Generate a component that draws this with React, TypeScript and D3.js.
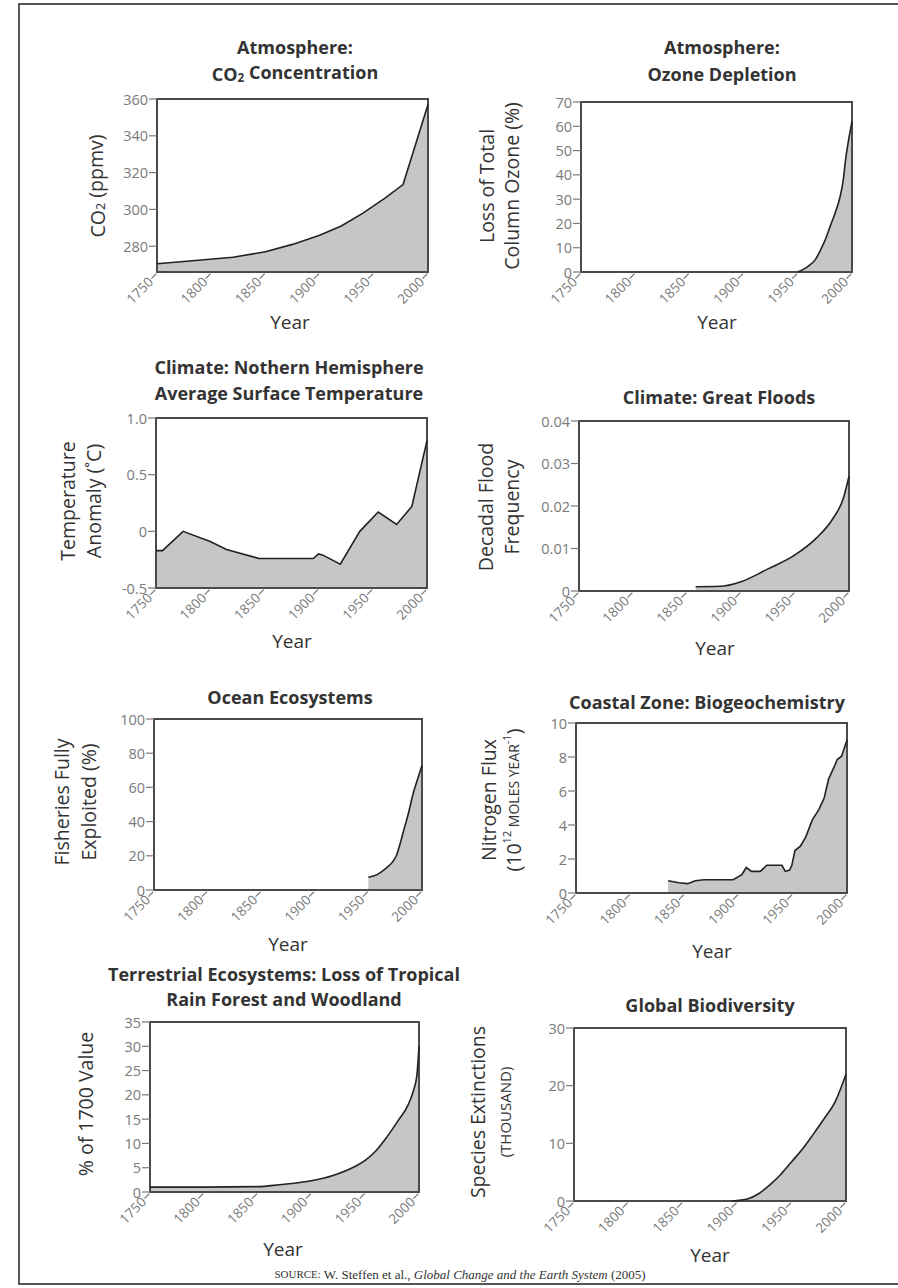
import * as d3 from "d3"

// shared x axis
const xTicks = [1750, 1800, 1850, 1900, 1950, 2000]

// series as [year, value]
const co2Data: [number, number][] = [
  [1750, 270.5], [1780, 272], [1820, 274], [1850, 277], [1875, 281], [1900, 286],
  [1920, 291], [1940, 298], [1960, 306], [1977, 313.5], [2000, 357],
]
const ozoneData: [number, number][] = [
  [1950, 0], [1960, 2.5], [1966, 5], [1972, 10], [1976, 14], [1980, 19], [1985, 25],
  [1989, 31], [1992, 38], [1994, 46], [1996, 52], [2000, 62],
]
const tempData: [number, number][] = [
  [1750, -0.17], [1756, -0.17], [1775, 0], [1800, -0.09], [1815, -0.16], [1845, -0.24],
  [1895, -0.24], [1900, -0.2], [1904, -0.21], [1920, -0.29], [1938, 0], [1955, 0.17],
  [1972, 0.06], [1986, 0.22], [2000, 0.8],
]
const floodData: [number, number][] = [
  [1858, 0.001], [1880, 0.0011], [1900, 0.0022], [1925, 0.0052], [1950, 0.0085],
  [1970, 0.0125], [1985, 0.017], [1995, 0.022], [2000, 0.027],
]
const fisheryData: [number, number][] = [
  [1950, 7.5], [1958, 9], [1966, 12.5], [1972, 16], [1976, 20], [1980, 28], [1983, 35],
  [1987, 44], [1992, 57], [1996, 65], [2000, 73],
]
const nitrogenData: [number, number][] = [
  [1835, 0.72], [1845, 0.6], [1853, 0.55], [1860, 0.72], [1868, 0.78], [1895, 0.78],
  [1903, 1.08], [1907, 1.5], [1912, 1.27], [1920, 1.27], [1926, 1.63], [1940, 1.63],
  [1943, 1.27], [1947, 1.35], [1949, 1.6], [1952, 2.5], [1957, 2.75], [1962, 3.3],
  [1968, 4.3], [1974, 4.9], [1979, 5.6], [1983, 6.7], [1988, 7.4], [1991, 7.85],
  [1995, 8.05], [2000, 9],
]
const forestData: [number, number][] = [
  [1750, 1], [1800, 1], [1850, 1.1], [1870, 1.5], [1900, 2.3], [1920, 3.4], [1940, 5.2],
  [1950, 6.5], [1960, 8.5], [1970, 11.3], [1980, 14.5], [1990, 18], [1995, 21],
  [1998, 24], [2000, 30],
]
const extinctionData: [number, number][] = [
  [1895, 0], [1910, 0.4], [1920, 1.3], [1930, 2.8], [1940, 4.6], [1950, 6.8], [1960, 9],
  [1970, 11.6], [1980, 14.3], [1990, 17.2], [2000, 22],
]

// y tick values and labels
const co2Ticks = [280, 300, 320, 340, 360]
const ozoneTicks = [0, 10, 20, 30, 40, 50, 60, 70]
const tempTicks = [-0.5, 0, 0.5, 1.0]
const tempTickLabels = ["-0.5", "0", "0.5", "1.0"]
const floodTicks = [0, 0.01, 0.02, 0.03, 0.04]
const floodTickLabels = ["0", "0.01", "0.02", "0.03", "0.04"]
const fisheryTicks = [0, 20, 40, 60, 80, 100]
const nitrogenTicks = [0, 2, 4, 6, 8, 10]
const forestTicks = [0, 5, 10, 15, 20, 25, 30, 35]
const extinctionTicks = [0, 10, 20, 30]

const sans = "'Open Sans', 'DejaVu Sans', sans-serif"
const FILL = "#c6c6c6"
const INK = "#333"
const GREY = "#7a7a7a"

const sub2 = <tspan fontSize="0.65em" dy="0.25em">2</tspan>

const panels = [
  {
    data: co2Data, domain: [266, 360], ticks: co2Ticks, curve: d3.curveLinear,
    left: 157, right: 428, top: 99, bottom: 272,
    titleX: 295, titleY: [47, 74],
    title: ["Atmosphere:", <>CO{sub2}<tspan dy="-0.25em"> Concentration</tspan></>],
    ylabel: [{ x: 97, node: <>CO{sub2}<tspan dy="-0.25em"> (ppmv)</tspan></> }], ylabelY: 186,
    yearX: 290, yearY: 322,
  },
  {
    data: ozoneData, domain: [0, 70], ticks: ozoneTicks, curve: d3.curveMonotoneX,
    left: 581, right: 852, top: 102, bottom: 272,
    titleX: 722, titleY: [47, 74], title: ["Atmosphere:", "Ozone Depletion"],
    ylabel: [{ x: 486, node: "Loss of Total" }, { x: 511, node: "Column Ozone (%)" }], ylabelY: 186,
    yearX: 717, yearY: 322,
  },
  {
    data: tempData, domain: [-0.5, 1.0], ticks: tempTicks, tickLabels: tempTickLabels, curve: d3.curveLinear,
    left: 156, right: 427, top: 418, bottom: 588,
    titleX: 289, titleY: [367, 393],
    title: ["Climate: Nothern Hemisphere", "Average Surface Temperature"],
    ylabel: [{ x: 67, node: "Temperature" }, { x: 93, node: "Anomaly (\u02daC)" }], ylabelY: 501,
    yearX: 292, yearY: 641,
  },
  {
    data: floodData, domain: [0, 0.04], ticks: floodTicks, tickLabels: floodTickLabels, curve: d3.curveMonotoneX,
    left: 579, right: 849, top: 421, bottom: 591,
    titleX: 719, titleY: [397], title: ["Climate: Great Floods"],
    ylabel: [{ x: 485, node: "Decadal Flood" }, { x: 511, node: "Frequency" }], ylabelY: 507,
    yearX: 715, yearY: 648,
  },
  {
    data: fisheryData, domain: [0, 100], ticks: fisheryTicks, curve: d3.curveMonotoneX,
    left: 154, right: 422, top: 719, bottom: 890,
    titleX: 290, titleY: [697], title: ["Ocean Ecosystems"],
    ylabel: [{ x: 61, node: "Fisheries Fully" }, { x: 88, node: "Exploited (%)" }], ylabelY: 802,
    yearX: 288, yearY: 944,
  },
  {
    data: nitrogenData, domain: [0, 10], ticks: nitrogenTicks, curve: d3.curveLinear,
    left: 576, right: 847, top: 723, bottom: 893,
    titleX: 707, titleY: [702], title: ["Coastal Zone: Biogeochemistry"],
    ylabel: [
      { x: 488, node: "Nitrogen Flux" },
      {
        x: 513,
        node: <>(10<tspan fontSize="11" dy="-7">12</tspan><tspan fontSize="14" dy="7">{"  MOLES YEAR"}</tspan><tspan fontSize="11" dy="-7">-1</tspan><tspan dy="7">)</tspan></>,
      },
    ], ylabelY: 800,
    yearX: 712, yearY: 951,
  },
  {
    data: forestData, domain: [0, 35], ticks: forestTicks, curve: d3.curveMonotoneX,
    left: 150, right: 419, top: 1022, bottom: 1192,
    titleX: 284, titleY: [974, 999],
    title: ["Terrestrial Ecosystems: Loss of Tropical", "Rain Forest and Woodland"],
    ylabel: [{ x: 85, node: "% of 1700 Value" }], ylabelY: 1104,
    yearX: 283, yearY: 1249,
  },
  {
    data: extinctionData, domain: [0, 30], ticks: extinctionTicks, curve: d3.curveMonotoneX,
    left: 574, right: 846, top: 1028, bottom: 1201,
    titleX: 710, titleY: [1005], title: ["Global Biodiversity"],
    ylabel: [{ x: 477, node: "Species Extinctions" }, { x: 505, node: <tspan fontSize="15">(THOUSAND)</tspan> }], ylabelY: 1112,
    yearX: 710, yearY: 1255,
  },
]

function Panel({ p }: { p: any }) {
  const x = d3.scaleLinear().domain([1750, 2000]).range([p.left, p.right])
  const y = d3.scaleLinear().domain(p.domain).range([p.bottom, p.top])

  const area = d3.area<[number, number]>()
    .x(d => x(d[0]))
    .y0(p.bottom)
    .y1(d => y(d[1]))
    .curve(p.curve)
  const line = d3.line<[number, number]>()
    .x(d => x(d[0]))
    .y(d => y(d[1]))
    .curve(p.curve)

  return (
    <g>
      {/* title */}
      {p.title.map((t: any, i: number) => (
        <text key={i} x={p.titleX} y={p.titleY[i]} textAnchor="middle" dominantBaseline="central"
          fontFamily={sans} fontWeight="bold" fontSize="18" fill={INK}>{t}</text>
      ))}

      <path d={area(p.data) || ""} fill={FILL} />
      <rect x={p.left} y={p.top} width={p.right - p.left} height={p.bottom - p.top}
        fill="none" stroke="#4a4a4a" strokeWidth="2" />
      <path d={line(p.data) || ""} fill="none" stroke="#222" strokeWidth="1.6" />

      {/* y ticks */}
      {p.ticks.map((t: number, i: number) => (
        <g key={t} transform={`translate(${p.left},${y(t)})`}>
          <line x1={-8} x2={0} stroke={GREY} strokeWidth="1.2" />
          <text x={-9} textAnchor="end" dominantBaseline="central" fontFamily={sans}
            fontSize="14.5" fill={GREY}>{p.tickLabels ? p.tickLabels[i] : String(t)}</text>
        </g>
      ))}

      {/* x ticks, rotated */}
      {xTicks.map(t => (
        <g key={t} transform={`translate(${x(t)},${p.bottom + 1}) rotate(-45)`}>
          <line x1={-8} x2={-1} stroke={GREY} strokeWidth="1.2" />
          <text x={-9} textAnchor="end" dominantBaseline="central" fontFamily={sans}
            fontSize="13.5" fill={GREY}>{t}</text>
        </g>
      ))}

      <text x={p.yearX} y={p.yearY} textAnchor="middle" dominantBaseline="central"
        fontFamily={sans} fontSize="19" fill={INK}>Year</text>

      {p.ylabel.map((l: any, i: number) => (
        <text key={i} transform={`translate(${l.x},${p.ylabelY}) rotate(-90)`} textAnchor="middle"
          dominantBaseline="central" fontFamily={sans} fontSize="19.5" fill={INK}>{l.node}</text>
      ))}
    </g>
  )
}

export default function App() {
  return (
    <svg width={898} height={1288} style={{ position: "absolute", left: 0, top: 0, background: "#fff" }}>
      <rect width={898} height={1288} fill="#fff" />
      {/* page frame */}
      <path d="M898,4 H19 V1284 H898" fill="none" stroke="#555" strokeWidth="2" />
      {panels.map((p, i) => <Panel key={i} p={p} />)}
      <text x={460} y={1274} textAnchor="middle" dominantBaseline="central"
        fontFamily="'Liberation Serif', 'DejaVu Serif', serif" fontSize="13" fill="#333">
        <tspan fontSize="11">SOURCE:</tspan> W. Steffen et al., <tspan fontStyle="italic">Global Change and the Earth System</tspan> (2005)
      </text>
    </svg>
  )
}
